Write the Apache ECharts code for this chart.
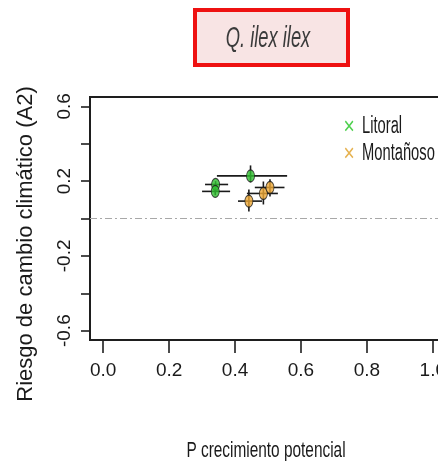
<!DOCTYPE html>
<html>
<head>
<meta charset="utf-8">
<script src="https://cdn.jsdelivr.net/npm/echarts@6/dist/echarts.min.js"></script>
<style>
  html, body { margin: 0; padding: 0; background: #fff; }
  #chart { width: 438px; height: 461px; }
</style>
</head>
<body>
<div id="chart"></div>
<script>
// Point estimates with their ranges: [x, y, xLow, xHigh, yLow, yHigh]
const litoral = [
  [0.447, 0.228, 0.345, 0.558, 0.193, 0.284],
  [0.341, 0.182, 0.309, 0.379, 0.165, 0.200],
  [0.340, 0.145, 0.300, 0.385, 0.125, 0.165]
];
const montanoso = [
  [0.442, 0.093, 0.409, 0.482, 0.037, 0.155],
  [0.486, 0.134, 0.436, 0.530, 0.075, 0.198],
  [0.506, 0.166, 0.460, 0.550, 0.118, 0.210]
];
const seriesNames = ['Litoral', 'Montañoso'];
const xTicks = [0.0, 0.2, 0.4, 0.6, 0.8, 1.0];
const yTicks = [-0.6, -0.4, -0.2, 0.0, 0.2, 0.4, 0.6];
const yTickLabels = [-0.6, -0.2, 0.2, 0.6];
const titleText = 'Q. ilex ilex';
const xTitle = 'P crecimiento potencial';
const yTitle = 'Riesgo de cambio climático (A2)';

const SANS = '"Liberation Sans", Arial, sans-serif';
const markerColors = ['#2fbf2f', '#eea834'];
const legendColors = ['#4fd04f', '#e6b250'];
const ink = '#1a1a1a';

// Horizontal and vertical range bars for each point
function rangeBars(params, api) {
  const y = api.value(1);
  const a = api.coord([api.value(2), y]);
  const b = api.coord([api.value(3), y]);
  const c = api.coord([api.value(0), api.value(4)]);
  const d = api.coord([api.value(0), api.value(5)]);
  const style = { stroke: ink, lineWidth: 1.6 };
  return {
    type: 'group',
    children: [
      { type: 'line', shape: { x1: a[0], y1: a[1], x2: b[0], y2: b[1] }, style: style },
      { type: 'line', shape: { x1: c[0], y1: c[1], x2: d[0], y2: d[1] }, style: style }
    ]
  };
}

const chart = echarts.init(document.getElementById('chart'), null, { renderer: 'canvas' });

const groups = [litoral, montanoso];
const series = [];
groups.forEach(function (rows, i) {
  series.push({
    name: seriesNames[i] + ' rango',
    type: 'custom',
    renderItem: rangeBars,
    data: rows,
    encode: { x: 0, y: 1 },
    z: 2,
    silent: true
  });
});
groups.forEach(function (rows, i) {
  series.push({
    name: seriesNames[i],
    type: 'scatter',
    data: rows.map(function (r) { return [r[0], r[1]]; }),
    symbol: 'circle',
    symbolSize: [8, 12],
    itemStyle: { color: markerColors[i], borderColor: ink, borderWidth: 1 },
    z: 3,
    markLine: i === 0 ? {
      silent: true,
      symbol: 'none',
      label: { show: false },
      lineStyle: { color: '#a8a8a8', type: [7, 3, 2, 3], width: 1 },
      data: [{ yAxis: 0 }]
    } : undefined
  });
});

// Legend entries: coloured cross followed by the series name
const legendGraphics = [];
seriesNames.forEach(function (n, i) {
  const midY = 127 + i * 27;
  legendGraphics.push({
    type: 'text', x: 349, y: midY, scaleX: 0.8,
    style: { text: '×', fill: legendColors[i], font: '24px ' + SANS, align: 'center', verticalAlign: 'middle' }
  });
  legendGraphics.push({
    type: 'text', x: 362, y: midY, scaleX: 0.64,
    style: { text: n, fill: ink, font: '23px ' + SANS, align: 'left', verticalAlign: 'middle' }
  });
});

chart.setOption({
  animation: false,
  backgroundColor: '#ffffff',
  grid: {
    left: 90, top: 97, width: 356, height: 243,
    outerBoundsMode: 'none', containLabel: false,
    show: true, borderColor: '#1e1e1e', borderWidth: 2, backgroundColor: 'transparent'
  },
  xAxis: {
    type: 'value', min: -0.04, max: 1.04,
    axisLine: { show: true, onZero: false, lineStyle: { color: '#1e1e1e', width: 2 } },
    axisTick: { show: true, inside: false, length: 13, customValues: xTicks, lineStyle: { color: '#1e1e1e', width: 1.6 } },
    axisLabel: {
      customValues: xTicks, margin: 21,
      fontFamily: SANS, fontSize: 19, color: ink,
      formatter: function (v) { return v.toFixed(1); }
    },
    splitLine: { show: false }
  },
  yAxis: {
    type: 'value', min: -0.65, max: 0.65,
    axisLine: { show: true, onZero: false, lineStyle: { color: '#1e1e1e', width: 2 } },
    axisTick: { show: true, inside: false, length: 9, customValues: yTicks, lineStyle: { color: '#1e1e1e', width: 1.6 } },
    axisLabel: {
      customValues: yTickLabels, rotate: 90, margin: 16,
      fontFamily: SANS, fontSize: 19, color: ink,
      formatter: function (v) { return v.toFixed(1); }
    },
    splitLine: { show: false }
  },
  graphic: [
    {
      type: 'rect', x: 195, y: 10,
      shape: { width: 153, height: 55 },
      style: { fill: '#f8e4e4', stroke: '#ee1111', lineWidth: 4 }
    },
    {
      type: 'text', x: 268, y: 39, scaleX: 0.61,
      style: { text: titleText, fill: '#3a3a3a', font: 'italic 30px ' + SANS, align: 'center', verticalAlign: 'middle' }
    },
    {
      type: 'text', x: 266, y: 451, scaleX: 0.70,
      style: { text: xTitle, fill: ink, font: '22px ' + SANS, align: 'center', verticalAlign: 'middle' }
    },
    {
      type: 'text', x: 26, y: 244, rotation: Math.PI / 2,
      style: { text: yTitle, fill: ink, font: '22px ' + SANS, align: 'center', verticalAlign: 'middle' }
    }
  ].concat(legendGraphics),
  series: series
});
</script>
</body>
</html>
